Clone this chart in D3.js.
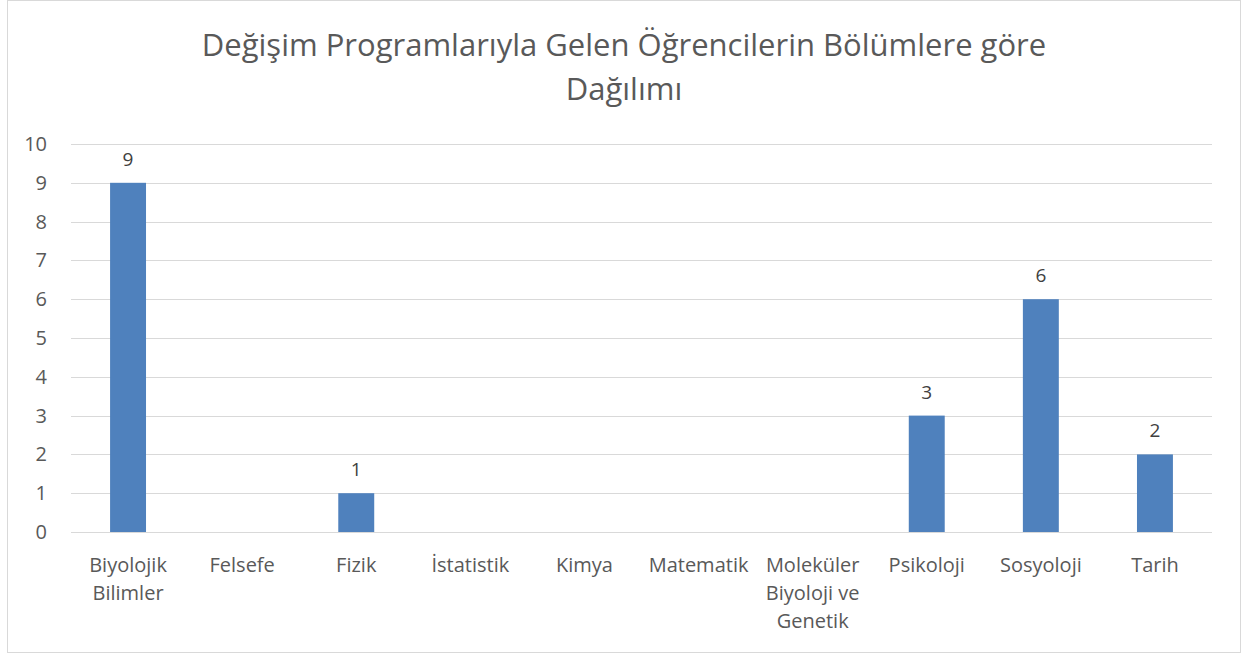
<!DOCTYPE html>
<html>
<head>
<meta charset="utf-8">
<script src="https://cdn.jsdelivr.net/npm/d3@7"></script>
<style>
  body { margin: 0; background: #fff; }
  text { font-family: 'Open Sans', sans-serif; }
</style>
</head>
<body>
<div id="chart"></div>
<script>
// data
let categories = [
  ['Biyolojik', 'Bilimler'],
  ['Felsefe'],
  ['Fizik'],
  ['İstatistik'],
  ['Kimya'],
  ['Matematik'],
  ['Moleküler', 'Biyoloji ve', 'Genetik'],
  ['Psikoloji'],
  ['Sosyoloji'],
  ['Tarih'],
];
let values = [9, null, 1, null, null, null, null, 3, 6, 2];
let yTicks = [0, 1, 2, 3, 4, 5, 6, 7, 8, 9, 10];
let titleLines = ['Değişim Programlarıyla Gelen Öğrencilerin Bölümlere göre', 'Dağılımı'];

const drawChart = () => {
  let width = 1244;
  let height = 654;
  let margin = { top: 144, left: 71, right: 32, bottom: 122 };
  let chartWidth = width - margin.left - margin.right;
  let chartHeight = height - margin.top - margin.bottom;

  let svg = d3
    .select('#chart')
    .append('svg')
    .attr('width', width)
    .attr('height', height);

  // outer border
  svg
    .append('rect')
    .attr('x', 7.5)
    .attr('y', 0.5)
    .attr('width', 1233)
    .attr('height', 652)
    .attr('fill', 'white')
    .attr('stroke', '#d9d9d9')
    .attr('stroke-width', 1);

  // title
  svg
    .append('g')
    .selectAll('text')
    .data(titleLines)
    .enter()
    .append('text')
    .attr('x', 624)
    .attr('y', (d, i) => 56 + i * 44)
    .attr('text-anchor', 'middle')
    .attr('font-size', 31)
    .attr('fill', '#595959')
    .text((d) => d);

  let g = svg
    .append('g')
    .attr('transform', `translate(${margin.left},${margin.top})`);

  let x = d3
    .scaleBand()
    .domain(d3.range(categories.length))
    .range([0, chartWidth])
    .paddingInner(0.685)
    .paddingOuter(0.3425);

  let y = d3.scaleLinear().domain([0, 10]).range([chartHeight, 0]);

  // gridlines
  g.selectAll('.grid')
    .data(yTicks)
    .enter()
    .append('line')
    .attr('class', 'grid')
    .attr('x1', 0)
    .attr('x2', chartWidth)
    .attr('y1', (d) => Math.round(y(d)) + 0.5)
    .attr('y2', (d) => Math.round(y(d)) + 0.5)
    .attr('stroke', '#d9d9d9')
    .attr('stroke-width', 1);

  // y axis labels
  let yAxis = g
    .append('g')
    .call(d3.axisLeft(y).tickValues(yTicks).tickSize(0).tickPadding(24));
  yAxis.select('.domain').remove();
  yAxis
    .selectAll('text')
    .attr('font-size', 20)
    .attr('font-family', "'Open Sans', sans-serif")
    .attr('fill', '#595959');

  // bars
  let barData = values
    .map((v, i) => ({ i: i, v: v }))
    .filter((d) => d.v !== null);

  g.selectAll('.bar')
    .data(barData)
    .enter()
    .append('rect')
    .attr('class', 'bar')
    .attr('x', (d) => x(d.i))
    .attr('y', (d) => y(d.v))
    .attr('width', x.bandwidth())
    .attr('height', (d) => y(0) - y(d.v))
    .attr('fill', '#4f81bd');

  // value labels
  g.selectAll('.value')
    .data(barData)
    .enter()
    .append('text')
    .attr('class', 'value')
    .attr('x', (d) => x(d.i) + x.bandwidth() / 2)
    .attr('y', (d) => y(d.v) - 17)
    .attr('text-anchor', 'middle')
    .attr('font-size', 19)
    .attr('fill', '#404040')
    .text((d) => d.v);

  // category labels
  let cats = g
    .selectAll('.cat')
    .data(categories)
    .enter()
    .append('text')
    .attr('class', 'cat')
    .attr('text-anchor', 'middle')
    .attr('font-size', 20)
    .attr('fill', '#595959')
    .attr('transform', (d, i) => `translate(${x(i) + x.bandwidth() / 2},${chartHeight + 40})`);

  cats
    .selectAll('tspan')
    .data((d) => d)
    .enter()
    .append('tspan')
    .attr('x', 0)
    .attr('y', (d, i) => i * 28)
    .text((d) => d);
};

drawChart();
</script>
</body>
</html>
